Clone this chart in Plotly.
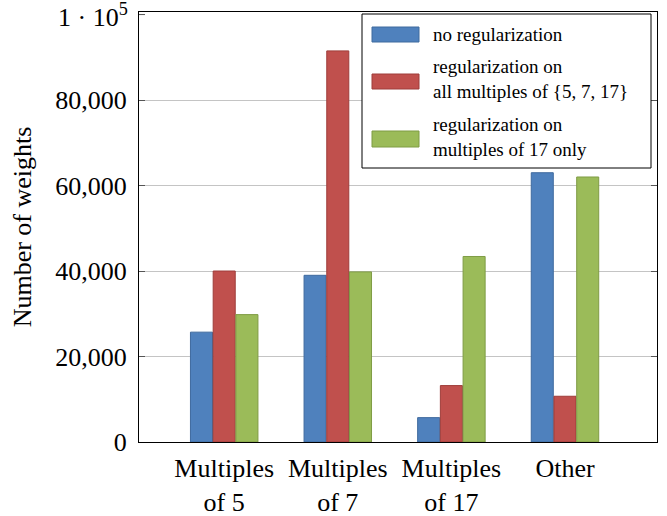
import plotly.graph_objects as go

categories = ["Multiples<br>of 5", "Multiples<br>of 7", "Multiples<br>of 17", "Other"]
no_reg = [25700, 39000, 5700, 63000]
reg_all = [40000, 91500, 13200, 10700]
reg_17 = [29800, 39800, 43400, 62000]

series_names = ["no regularization",
                "regularization on<br>all multiples of {5, 7, 17}",
                "regularization on<br>multiples of 17 only"]
fill_colors = ["#4F81BD", "#C0504D", "#9BBB59"]
line_colors = ["#3F6A9E", "#9E3D3A", "#7F9C45"]

ytick_vals = [0, 20000, 40000, 60000, 80000]
ytick_text = ["0", "20,000", "40,000", "60,000", "80,000"]
top_value = 100000
top_label = "1 · 10<sup>5</sup>"

FONT = "Liberation Serif, Times New Roman, DejaVu Serif, serif"
x = list(range(len(categories)))

fig = go.Figure()
for vals, name, fc, lc in zip([no_reg, reg_all, reg_17], series_names, fill_colors, line_colors):
    fig.add_trace(go.Bar(x=x, y=vals, name=name, marker=dict(color=fc, line=dict(color=lc, width=1)),
                         showlegend=False))

# plot area in pixels
L, R, T, B = 139, 657, 12, 442
W, H = R - L, B - T
def px(xp):
    return (xp - L) / W
def py(yp):
    return (B - yp) / H

shapes = [dict(type="rect", xref="paper", yref="paper", x0=px(362), x1=px(651), y0=py(168), y1=py(14),
               line=dict(color="black", width=1), fillcolor="white", layer="above")]
annotations = []
patch_y = [(27, 42), (74, 89), (131, 147)]
text_y = [34.5, 79, 137]
for (y0, y1), ty, name, fc, lc in zip(patch_y, text_y, series_names, fill_colors, line_colors):
    shapes.append(dict(type="rect", xref="paper", yref="paper", x0=px(372), x1=px(419), y0=py(y1), y1=py(y0),
                       fillcolor=fc, line=dict(color=lc, width=1), layer="above"))
    annotations.append(dict(xref="paper", yref="paper", x=px(431), y=py(ty), text=name, showarrow=False,
                            xanchor="left", yanchor="middle", align="left",
                            font=dict(family=FONT, size=19, color="black")))

annotations.append(dict(xref="paper", yref="y", x=0, y=top_value, text=top_label, showarrow=False,
                        xanchor="right", yanchor="middle", xshift=-9, yshift=-1,
                        font=dict(family=FONT, size=26, color="black")))
# top tick mark at 1e5 sits at the frame edge
shapes.append(dict(type="line", xref="paper", yref="y", x0=0, x1=6 / W, y0=top_value, y1=top_value,
                   line=dict(color="#555555", width=1)))

fig.update_layout(
    width=667, height=516,
    margin=dict(l=L, r=667 - R, t=T, b=516 - B),
    paper_bgcolor="white", plot_bgcolor="white",
    barmode="group", bargap=0.4, bargroupgap=0.03,
    font=dict(family=FONT, size=26, color="black"),
    shapes=shapes, annotations=annotations,
    xaxis=dict(range=[-0.75, 3.81], tickvals=x, ticktext=categories, showgrid=False,
               showline=True, linecolor="black", linewidth=1, mirror=True, ticks="",
               tickfont=dict(family=FONT, size=26), zeroline=False, automargin=False,
               ticklabelstandoff=3),
    yaxis=dict(range=[0, 100600], tickvals=ytick_vals, ticktext=ytick_text, showgrid=True,
               gridcolor="#C4C4C4", gridwidth=1, showline=True, linecolor="black", linewidth=1,
               mirror="allticks", ticks="inside", ticklen=6, tickcolor="#555555", zeroline=False,
               tickfont=dict(family=FONT, size=26), ticklabelstandoff=6, automargin=False,
               title=dict(text="Number of weights", font=dict(family=FONT, size=26), standoff=16)),
)

fig.write_html("out.html")
